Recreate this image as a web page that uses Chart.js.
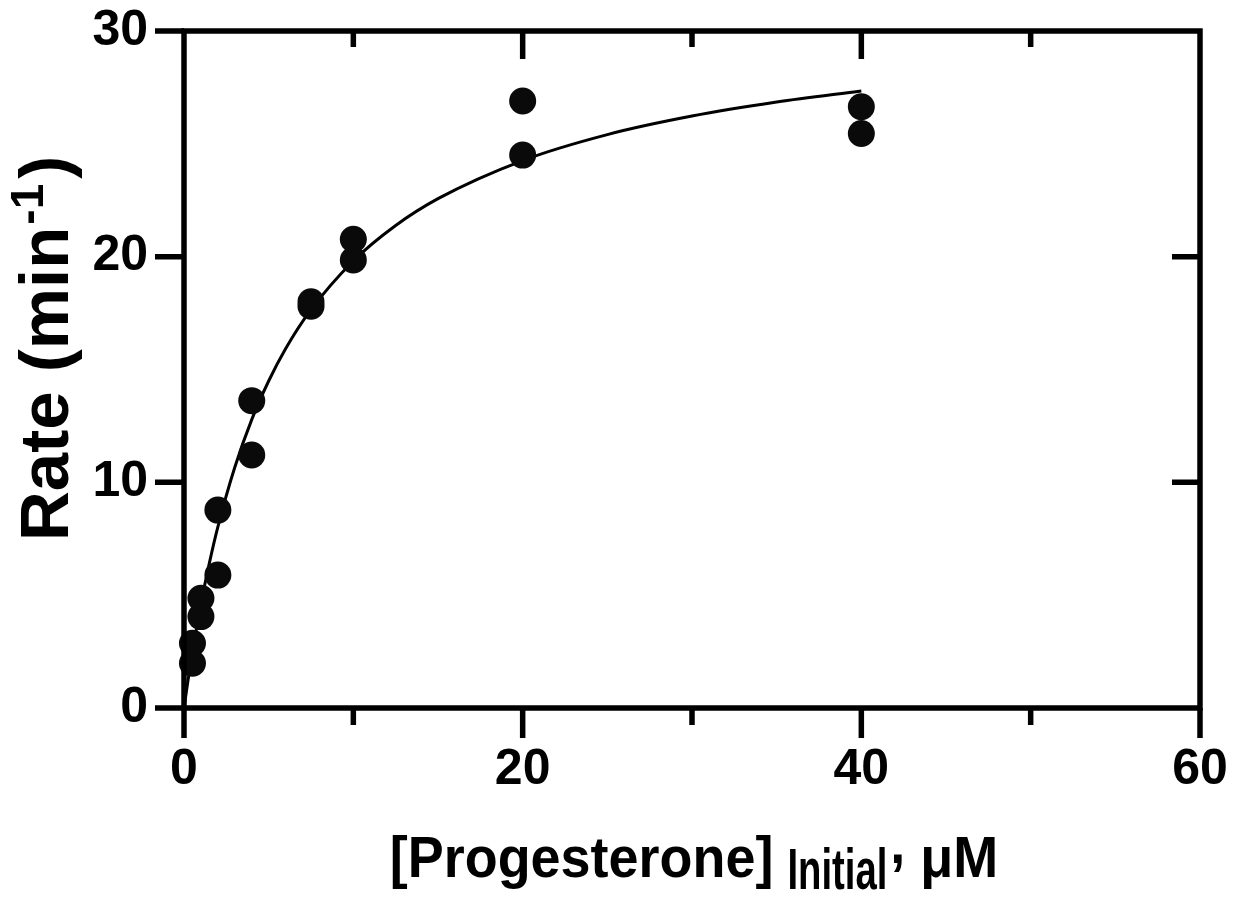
<!DOCTYPE html>
<html lang="en">
<head>
<meta charset="UTF-8" />
<title>Rate vs [Progesterone]</title>
<script src="https://cdn.jsdelivr.net/npm/chart.js"></script>
<style>
    html, body { margin: 0; padding: 0; background: #fff; }
    #wrap { width: 1246px; height: 900px; position: relative; }
</style>
</head>
<body>
<div id="wrap"><canvas id="mmChart"></canvas></div>
<script>
// measured points (duplicates at each concentration)
const concentration = [0.5, 0.5, 1, 1, 2, 2, 4, 4, 7.5, 7.5, 10, 10, 20, 20, 40, 40];
const rate = [1.98, 2.87, 4.05, 4.86, 5.89, 8.77, 11.21, 13.62, 17.8, 18.0, 19.85, 20.77, 24.5, 26.9, 25.46, 26.64];

// fitted curve
const fitX = [0, 0.25, 0.5, 1, 1.5, 2, 3, 4, 5, 6, 7.5, 10, 12.5, 15, 20, 25, 30, 35, 40];
const fitY = [0, 1.29, 2.48, 4.6, 6.43, 8.03, 10.67, 12.78, 14.49, 15.92, 17.65, 19.81, 21.38, 22.57, 24.26, 25.41, 26.23, 26.85, 27.34];

const xLabelled = [0, 20, 40, 60];
const yLabelled = [0, 10, 20, 30];

const FONT = "'Liberation Sans', Arial, Helvetica, sans-serif";

function drawPieces(ctx, pieces) {
    pieces.forEach(p => {
        ctx.save();
        ctx.font = `bold ${p.size}px ${FONT}`;
        ctx.translate(p.x, p.dy);
        ctx.scale(p.sx, 1);
        ctx.fillText(p.t, 0, 0);
        ctx.restore();
    });
}

function layoutPieces(ctx, pieces) {
    let pos = 0;
    pieces.forEach(p => {
        ctx.font = `bold ${p.size}px ${FONT}`;
        p.x = pos;
        pos += ctx.measureText(p.t).width * p.sx + (p.gap || 0);
    });
    return pos;
}

const framePlugin = {
    id: 'frame',
    afterDatasetsDraw(chart) {
        const { ctx, chartArea: a, scales: { x, y } } = chart;
        ctx.save();
        ctx.strokeStyle = '#000';
        ctx.lineWidth = 5.5;
        ctx.lineCap = 'butt';
        ctx.lineJoin = 'miter';
        ctx.strokeRect(a.left, a.top, a.right - a.left, a.bottom - a.top);
        ctx.beginPath();
        x.ticks.forEach(t => {
            const px = x.getPixelForValue(t.value);
            const major = xLabelled.includes(t.value);
            ctx.moveTo(px, a.bottom);
            ctx.lineTo(px, a.bottom + (major ? 30 : 17));
            if (t.value > x.min && t.value < x.max) {
                ctx.moveTo(px, a.top);
                ctx.lineTo(px, a.top + (major ? 28 : 16));
            }
        });
        y.ticks.forEach(t => {
            const py = y.getPixelForValue(t.value);
            ctx.moveTo(a.left, py);
            ctx.lineTo(a.left - 29, py);
            if (t.value > y.min && t.value < y.max) {
                ctx.moveTo(a.right, py);
                ctx.lineTo(a.right - 28, py);
            }
        });
        ctx.stroke();
        ctx.restore();
    },
    afterDraw(chart) {
        const { ctx, chartArea: a } = chart;
        ctx.save();
        ctx.fillStyle = '#000';
        ctx.textBaseline = 'alphabetic';
        ctx.textAlign = 'left';

        // x title with subscript
        const xp = [
            { t: '[Progesterone]', size: 58, sx: 0.93, dy: 0, gap: 14 },
            { t: 'Initial', size: 58, sx: 0.66, dy: 12, gap: 3 },
            { t: ',', size: 58, sx: 0.93, dy: -14, gap: 0 },
            { t: ' \u03BCM', size: 58, sx: 0.93, dy: 0 }
        ];
        const wx = layoutPieces(ctx, xp);
        ctx.save();
        ctx.translate((a.left + a.right) / 2 + 2 - wx / 2, 877);
        drawPieces(ctx, xp);
        ctx.restore();

        // y title with superscript, rotated
        const yp = [
            { t: 'Rate (min', size: 69, sx: 1, dy: 0, gap: 2 },
            { t: '-1', size: 46, sx: 1, dy: -25, gap: 5 },
            { t: ')', size: 69, sx: 1, dy: 0 }
        ];
        layoutPieces(ctx, yp);
        ctx.save();
        ctx.translate(68, 541);
        ctx.rotate(-Math.PI / 2);
        drawPieces(ctx, yp);
        ctx.restore();

        ctx.restore();
    }
};

function noScalePadding(s) {
    s.paddingTop = 0;
    s.paddingBottom = 0;
    s.paddingLeft = 0;
    s.paddingRight = 0;
}

const ctx = document.getElementById('mmChart').getContext('2d');
new Chart(ctx, {
    type: 'scatter',
    data: {
        datasets: [
            {
                label: 'Rate',
                data: concentration.map((c, i) => ({ x: c, y: rate[i] })),
                backgroundColor: '#0a0a0a',
                borderWidth: 0,
                pointRadius: 13.5,
                clip: false
            },
            {
                label: 'Fit',
                type: 'line',
                data: fitX.map((c, i) => ({ x: c, y: fitY[i] })),
                borderColor: '#000',
                borderWidth: 3,
                pointRadius: 0,
                fill: false,
                cubicInterpolationMode: 'monotone',
                clip: false
            }
        ]
    },
    options: {
        responsive: true,
        maintainAspectRatio: false,
        animation: false,
        events: [],
        layout: { padding: { top: 31, right: 46, left: 0, bottom: 0 } },
        plugins: {
            legend: { display: false },
            tooltip: { enabled: false }
        },
        scales: {
            x: {
                type: 'linear',
                min: 0,
                max: 60,
                grid: { display: false, drawTicks: false },
                border: { display: false },
                ticks: {
                    stepSize: 10,
                    autoSkip: false,
                    maxRotation: 0,
                    padding: 32,
                    color: '#000',
                    font: { family: FONT, size: 50, weight: 'bold' },
                    callback: v => xLabelled.includes(v) ? String(v) : ''
                },
                afterFit: s => { s.height = 192; noScalePadding(s); }
            },
            y: {
                type: 'linear',
                min: 0,
                max: 30,
                grid: { display: false, drawTicks: false },
                border: { display: false },
                ticks: {
                    stepSize: 10,
                    autoSkip: false,
                    padding: 36,
                    color: '#000',
                    font: { family: FONT, size: 50, weight: 'bold' },
                    callback: v => yLabelled.includes(v) ? String(v) : ''
                },
                afterFit: s => { s.width = 184; noScalePadding(s); }
            }
        }
    },
    plugins: [framePlugin]
});
</script>
</body>
</html>
